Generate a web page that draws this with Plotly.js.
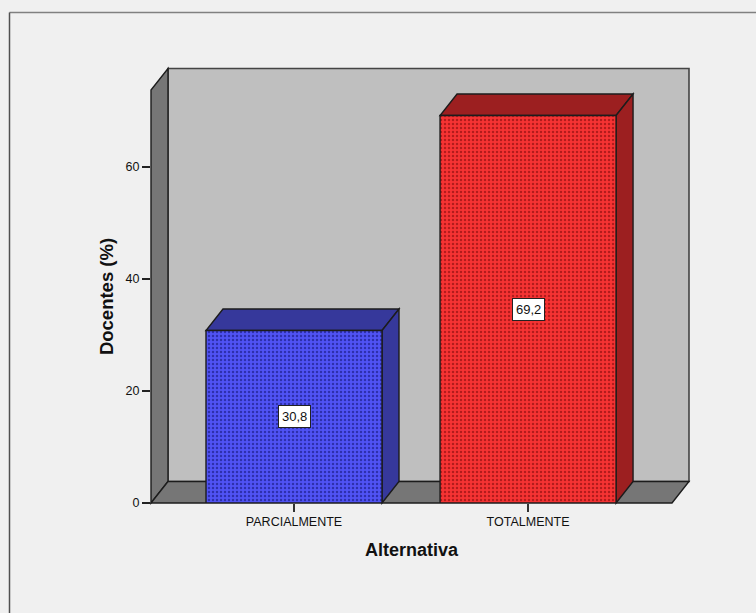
<!DOCTYPE html>
<html>
<head>
<meta charset="utf-8">
<script src="https://cdn.plot.ly/plotly-3.0.1.min.js"></script>
<style>html,body{margin:0;padding:0;background:#f0f0f0}#chart{width:756px;height:613px}</style>
</head>
<body>
<div id="chart"></div>
<script>
// Share of teachers per answer
const categories = ["PARCIALMENTE", "TOTALMENTE"];
const percentages = [30.8, 69.2];
const valueLabels = ["30,8", "69,2"];
const yTicks = [0, 20, 40, 60];

const frontColors = ["#5053f5", "#f63333"];
const dotColors = ["#2e30ad", "#b31c1c"];
const shadeColors = ["#36389b", "#9c1f20"];

// Box geometry, in axis units
const barWidth = 0.752;
const depthX = 0.0726;
const depthY = 3.84;
const floorLeft = -0.611;
const floorRight = 1.615;
const axisTop = 73.75;

const edge = {color: "#1c1c1c", width: 1.4};

// Pseudo-3D faces extend past the axes, so they are placed in paper fractions
const px = v => (v - floorLeft) / (floorRight - floorLeft);
const py = v => v / axisTop;

function poly(points, fill, line) {
  return {
    type: "path", xref: "paper", yref: "paper", layer: "below",
    path: "M" + points.map(p => px(p[0]) + "," + py(p[1])).join("L") + "Z",
    fillcolor: fill, line: line || edge
  };
}

const shapes = [
  // Back wall, left wall and floor
  poly([[floorLeft + depthX, depthY], [floorRight + depthX, depthY], [floorRight + depthX, axisTop + depthY], [floorLeft + depthX, axisTop + depthY]], "#bfbfbf", {color: "#444444", width: 1.6}),
  poly([[floorLeft, 0], [floorLeft + depthX, depthY], [floorLeft + depthX, axisTop + depthY], [floorLeft, axisTop]], "#767676"),
  poly([[floorLeft, 0], [floorRight, 0], [floorRight + depthX, depthY], [floorLeft + depthX, depthY]], "#767676")
];

// Top and right faces of each bar follow its value
percentages.forEach((v, i) => {
  const l = i - barWidth / 2, r = i + barWidth / 2;
  shapes.push(poly([[l, v], [r, v], [r + depthX, v + depthY], [l + depthX, v + depthY]], shadeColors[i]));
  shapes.push(poly([[r, 0], [r + depthX, depthY], [r + depthX, v + depthY], [r, v]], shadeColors[i]));
});

// Chart frame along the top and left edges
const plotW = 521, plotH = 413, plotL = 151, plotB = 110;
const frameX = (9.5 - plotL) / plotW;
const frameTop = (613 - 12.5 - plotB) / plotH;
const frameBottom = -plotB / plotH;
shapes.push({type: "line", xref: "paper", yref: "paper", x0: frameX, x1: (756 - plotL) / plotW, y0: frameTop, y1: frameTop, line: {color: "#808080", width: 1.5}});
shapes.push({type: "line", xref: "paper", yref: "paper", x0: frameX, x1: frameX, y0: frameTop, y1: frameBottom, line: {color: "#505050", width: 1.5}});

const annotations = percentages.map((v, i) => ({
  x: i, y: v / 2, text: valueLabels[i], showarrow: false,
  font: {family: "Liberation Sans, Arial, sans-serif", size: 13, color: "#111111"},
  bgcolor: "#ffffff", bordercolor: "#222222", borderwidth: 1, borderpad: 3
}));

// One trace per bar so each carries its own dotted fill
const traces = percentages.map((v, i) => ({
  type: "bar",
  name: categories[i],
  x: [i],
  y: [v],
  width: barWidth,
  marker: {
    color: frontColors[i],
    line: {color: "#1c1c1c", width: 1.4},
    pattern: {shape: ".", size: 4, solidity: 0.3, fgcolor: dotColors[i], bgcolor: frontColors[i], fgopacity: 1, fillmode: "replace"}
  },
  hoverinfo: "skip"
}));

const layout = {
  width: 756, height: 613,
  margin: {l: plotL, r: 756 - plotL - plotW, t: 613 - plotH - plotB, b: plotB, pad: 0},
  paper_bgcolor: "#f0f0f0",
  plot_bgcolor: "rgba(0,0,0,0)",
  showlegend: false,
  barmode: "overlay",
  shapes: shapes,
  annotations: annotations,
  font: {family: "Liberation Sans, Arial, sans-serif", color: "#111111"},
  xaxis: {
    range: [floorLeft, floorRight],
    tickvals: [0, 1], ticktext: categories,
    ticks: "outside", ticklen: 8, tickwidth: 1.3, tickcolor: "#333333",
    showgrid: false, zeroline: false, showline: false,
    tickfont: {size: 12.5}, ticklabelstandoff: -1,
    title: {text: "<b>Alternativa</b>", font: {size: 18}, standoff: 15}
  },
  yaxis: {
    range: [0, axisTop],
    tickvals: yTicks,
    ticks: "outside", ticklen: 8, tickwidth: 1.3, tickcolor: "#222222",
    showgrid: false, zeroline: false, showline: false,
    tickfont: {size: 12.5},
    title: {text: "<b>Docentes (%)</b>", font: {size: 18.5}, standoff: 7}
  }
};

Plotly.newPlot("chart", traces, layout, {displayModeBar: false, staticPlot: true});
</script>
</body>
</html>
